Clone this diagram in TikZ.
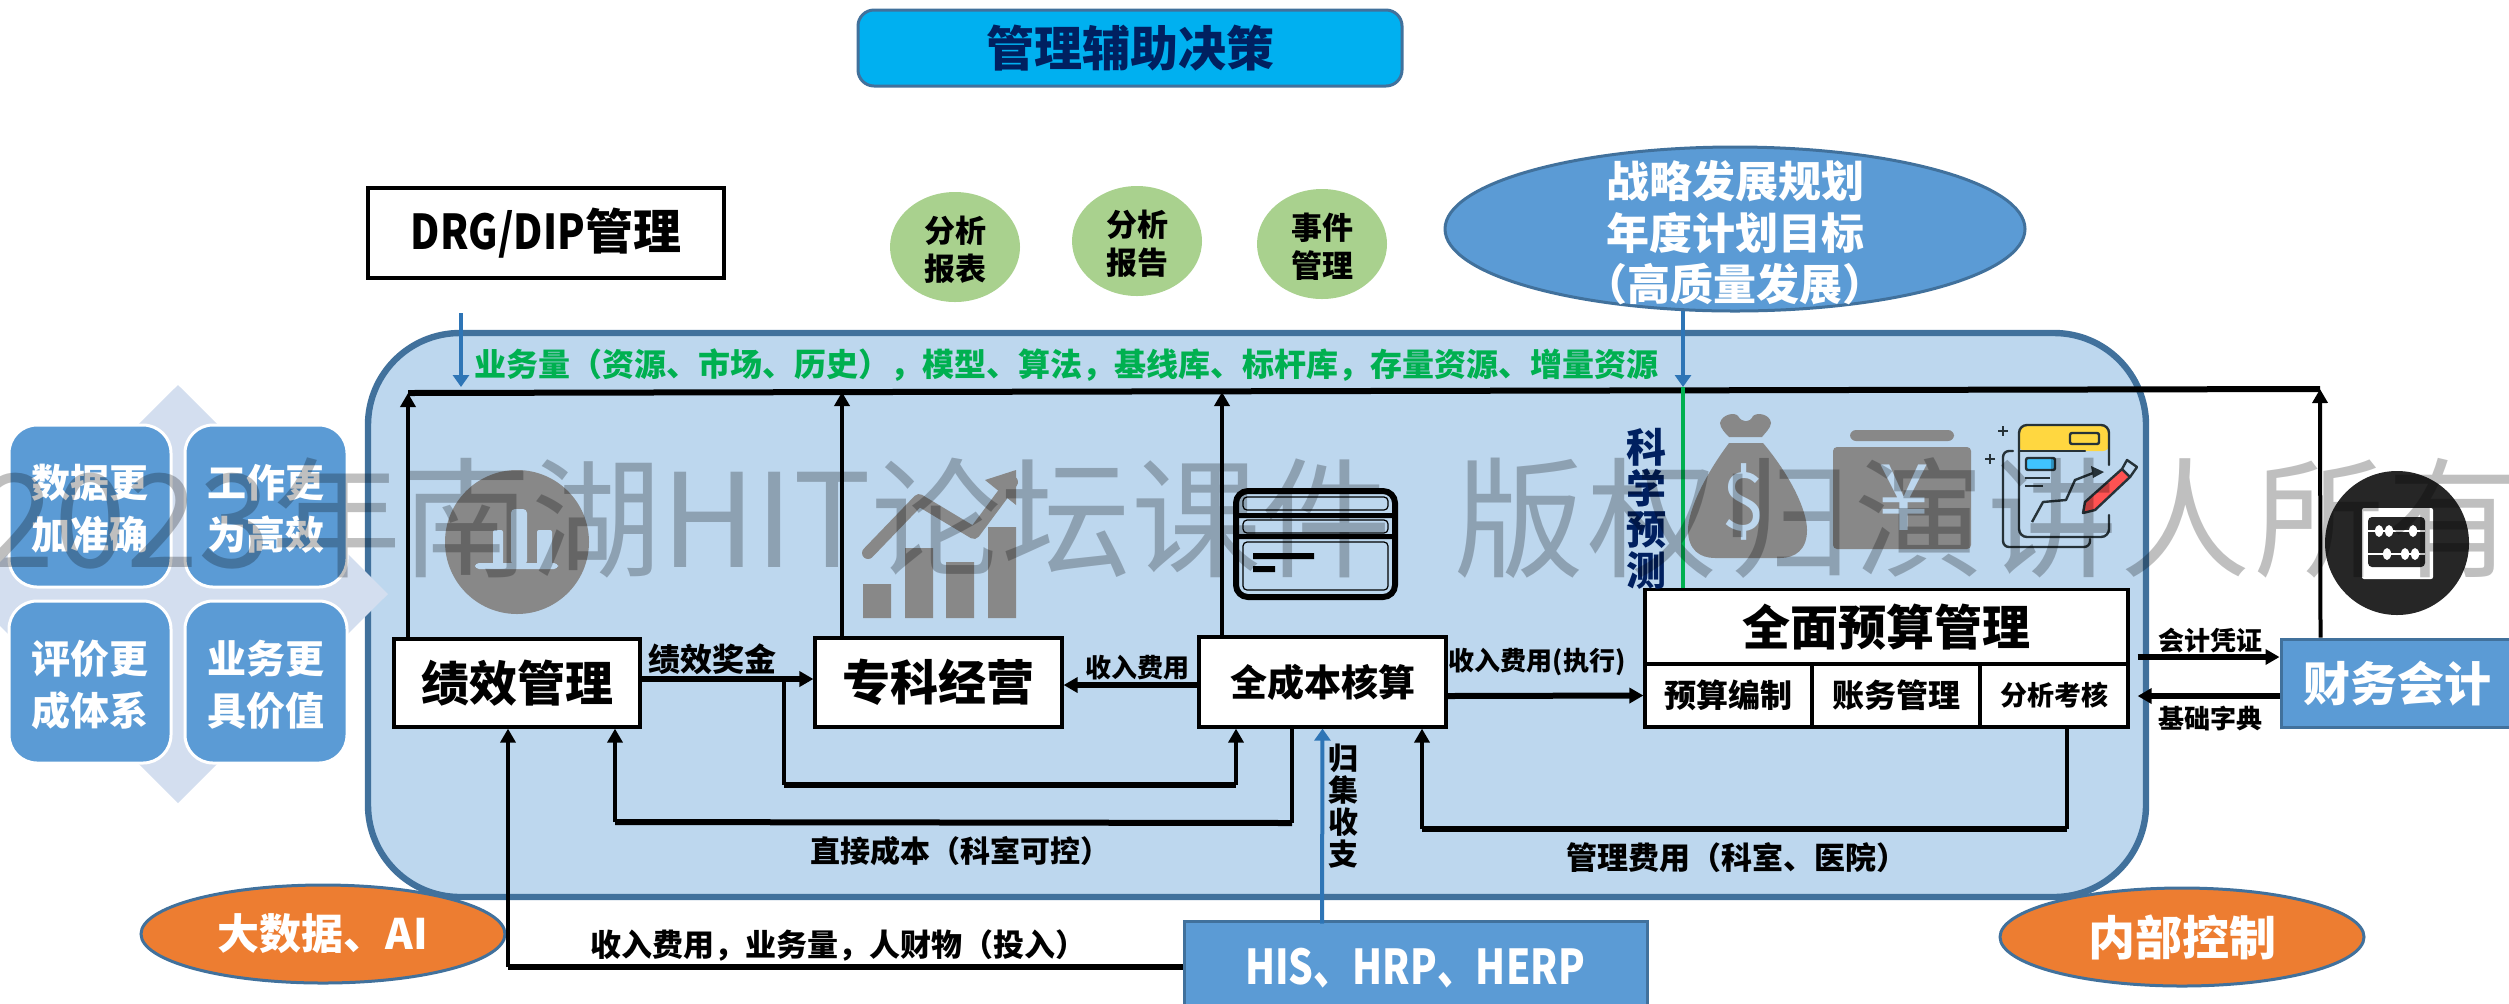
\documentclass[tikz,border=0pt]{standalone}
\usepackage{fontspec}
\setmainfont{Noto Sans CJK SC}
\usetikzlibrary{arrows.meta,shapes.geometric}
\definecolor{panelblue}{HTML}{BDD7EE}
\definecolor{panelline}{HTML}{41719C}
\definecolor{midblue}{HTML}{5B9BD5}
\definecolor{arrowblue}{HTML}{2E75B6}
\definecolor{lightdiamond}{HTML}{D3DEEF}
\definecolor{navytext}{HTML}{002060}
\definecolor{bannerblue}{HTML}{00B0F0}
\definecolor{softgreen}{HTML}{A9D18E}
\definecolor{strongreen}{HTML}{00B050}
\definecolor{orangefill}{HTML}{ED7D31}
\definecolor{icongrey}{HTML}{888888}
\definecolor{icondark}{HTML}{263238}
\definecolor{iconyellow}{HTML}{FFD740}
\definecolor{iconcyan}{HTML}{40C4FF}
\definecolor{iconred}{HTML}{FF5252}
\definecolor{abacusdark}{HTML}{262626}
\tikzset{
  fnt/.style={font=\bfseries\fontsize{#1}{#1}\selectfont},
  wbox/.style={draw=black,fill=white,line width=1.6pt,inner sep=0pt,text=black},
  sbox/.style={draw=white,fill=midblue,line width=1.5pt,rounded corners=14pt,minimum width=81pt,minimum height=81pt,inner sep=0pt},
  stext/.style={inner sep=0pt,text=white,align=center,font=\bfseries\fontsize{19.5}{26}\selectfont},
  oval/.style={ellipse,fill=softgreen,inner sep=0pt,minimum width=65pt,minimum height=55pt},
  ovaltext/.style={inner sep=0pt,align=center,font=\bfseries\fontsize{15.5}{19}\selectfont},
  orangeoval/.style={ellipse,draw=panelline,fill=orangefill,line width=1.5pt,inner sep=0pt,minimum width=182pt,minimum height=49pt,text=white},
  bluebox/.style={draw=panelline,fill=midblue,line width=1.5pt,inner sep=0pt,text=white},
  lbl/.style={inner sep=0pt,text=black,align=center},
  thn/.style={draw=black,line width=2pt},
  thk/.style={draw=black,line width=3pt},
  tip/.style={-{Triangle[length=7pt,width=7.5pt]}},
  tipb/.style={-{Triangle[length=6pt,width=8pt]}},
}
\begin{document}
\begin{tikzpicture}[x=0.5pt,y=-0.5pt]
\useasboundingbox (0,0) rectangle (2509,1003);
\clip (0,0) rectangle (2509,1003);
% panel
\node[draw=panelline,fill=panelblue,line width=3.2pt,rounded corners=46pt,minimum width=889pt,minimum height=282pt,inner sep=0pt] (panel) at (1257,615) {};
% matrix on the left
\fill[lightdiamond] (178,385) -- (388,594) -- (178,803) -- (-32,594) -- cycle;
\node[sbox] (m1) at (90,506) {};
\node[sbox] (m2) at (266,506) {};
\node[sbox] (m3) at (90,682) {};
\node[sbox] (m4) at (266,682) {};
\node[stext] (m1t) at (90,509) {数据更\\加准确};
\node[stext] (m2t) at (266,509) {工作更\\为高效};
\node[stext] (m3t) at (90,685) {评价更\\成体系};
\node[stext] (m4t) at (266,685) {业务更\\具价值};
% top
\node[draw=panelline,fill=bannerblue,line width=1.5pt,rounded corners=8pt,minimum width=272pt,minimum height=38pt,inner sep=0pt,text=navytext,fnt=24] (banner) at (1130,48) {管理辅助决策};
\node[wbox,minimum width=178pt,minimum height=45pt,fnt=24] (drg) at (546,233) {\scalebox{.84}[1]{DRG/DIP}管理};
\node[oval] (o1) at (955,247) {};
\node[oval] (o2) at (1137,241) {};
\node[oval] (o3) at (1322,244) {};
\node[ovaltext] (o1t) at (955,250) {分析\\报表};
\node[ovaltext] (o2t) at (1137,244) {分析\\报告};
\node[ovaltext] (o3t) at (1322,247) {事件\\管理};
\node[ellipse,draw=panelline,fill=midblue,line width=1.5pt,minimum width=290pt,minimum height=82pt,inner sep=0pt] (goal) at (1735,229) {};
\node[inner sep=0pt,text=white,align=center,font=\bfseries\fontsize{21.5}{25.7}\selectfont] (goalt) at (1735,233) {战略发展规划\\年度计划目标\\（高质量发展）};
\node[lbl,text=strongreen,fnt=16] (metrics) at (1066,365) {业务量（资源、市场、历史），模型、算法，基线库、标杆库，存量资源、增量资源};
% icons: circle chart
\fill[icongrey] (517,542) circle (72);
\fill[panelblue,rounded corners=2pt] (511,565) -- (511,509) -- (527,509) -- (527,565) -- cycle;
\fill[panelblue,rounded corners=1pt] (493,565) -- (493,530) -- (503,530) -- (503,565) -- cycle;
\fill[panelblue,rounded corners=1pt] (537,565) -- (537,530) -- (552,530) -- (552,565) -- cycle;
\fill[panelblue,rounded corners=2pt] (475,563) rectangle (558,569);
% icons: bars
\fill[icongrey] (863,584) rectangle (891,618) (905,548) rectangle (933,618) (946,562) rectangle (974,618) (988,527) rectangle (1016,618);
\draw[icongrey,line width=6pt,line cap=round,line join=round] (868,553) -- (919,500) -- (974,533) -- (1012,482);
\fill[icongrey] (1016,470) -- (1016,505) -- (985,480) -- cycle;
% icons: card
\draw[black,line width=3pt,rounded corners=6pt] (1236,491) rectangle (1395,597);
\fill[black] (1236,513) rectangle (1395,518) (1236,534) rectangle (1395,539);
\draw[black,line width=.6pt,rounded corners=2pt] (1243,497) rectangle (1388,510) (1243,520) rectangle (1388,533) (1243,542) rectangle (1388,590);
\fill[black] (1253,553) rectangle (1314,559) (1253,566) rectangle (1275,572);
% icons: money bag
\fill[icongrey] (1720,423) .. controls (1722,414) and (1735,412) .. (1738,416) .. controls (1742,423) and (1750,423) .. (1753,416) .. controls (1757,412) and (1770,414) .. (1771,423) .. controls (1771,428) and (1764,434) .. (1762,437) -- (1729,437) .. controls (1726,434) and (1720,428) .. (1720,423) -- cycle;
\fill[icongrey] (1729,443) -- (1763,443) .. controls (1790,475) and (1807,510) .. (1807,530) .. controls (1807,550) and (1795,558) .. (1780,558) -- (1715,558) .. controls (1700,558) and (1688,550) .. (1688,530) .. controls (1688,510) and (1705,475) .. (1729,443) -- cycle;
\node[inner sep=0pt,text=panelblue,font=\fontsize{40}{40}\selectfont] (dollar) at (1744,502) {\$};
% icons: yen wallet
\fill[icongrey,rounded corners=3pt] (1850,430) rectangle (1954,441);
\fill[icongrey,rounded corners=2pt] (1833,447) rectangle (1971,549);
\node[inner sep=0pt,text=panelblue,font=\fontsize{46}{46}\selectfont] (yen) at (1904,498) {¥};
% icons: document
\fill[iconyellow,rounded corners=3pt] (2019,451) -- (2019,425) -- (2109,425) -- (2109,451) -- cycle;
\draw[icondark,line width=1.2pt,rounded corners=4pt,line cap=round] (2109,465) -- (2109,425) -- (2019,425) -- (2019,537) -- (2109,537) -- (2109,515);
\draw[icondark,line width=1.2pt,line cap=round] (2019,451) -- (2085,451);
\draw[icondark,line width=1.2pt,rounded corners=3pt,line cap=round] (2013,451) -- (2003,451) -- (2003,547) -- (2090,547) -- (2090,539);
\draw[icondark,line width=1.2pt,fill=iconyellow,rounded corners=1pt] (2070,433) rectangle (2099,444);
\draw[icondark,line width=1.2pt,fill=iconcyan,rounded corners=1pt] (2026,458) rectangle (2055,470);
\draw[icondark,line width=1.2pt] (2025,478) -- (2050,478) (2025,486) -- (2043,486) (1998,431) -- (2008,431) (2003,426) -- (2003,436) (1985,459) -- (1995,459) (1990,454) -- (1990,464);
\draw[icondark,line width=1.2pt,line join=round] (2032,522) -- (2043,502) -- (2066,500) -- (2075,480) -- (2093,473);
\fill[icondark] (2104,472) -- (2091,466) -- (2093,478) -- cycle;
\draw[icondark,line width=1.2pt,line join=round,fill=iconred] (2083,513) -- (2085,502) -- (2122,469) -- (2130,477) -- (2095,510) -- cycle;
\draw[icondark,line width=1.2pt,line join=round,fill=panelblue] (2122,469) -- (2127,460) -- (2137,467) -- (2130,477) -- cycle;
% icons: abacus
\fill[abacusdark] (2397,543) circle (72);
\fill[white,rounded corners=1pt] (2362,508) rectangle (2433,579);
\fill[abacusdark,rounded corners=2pt] (2368,517) rectangle (2425,567);
\draw[white,line width=1pt] (2368,531) -- (2425,531) (2368,554) -- (2425,554);
\foreach \bx/\by in {2379/531,2389/531,2413/531,2387/554,2405/554,2415/554}{\fill[white] (\bx,\by) ellipse (4 and 6);}
% main boxes
\node[wbox,minimum width=123pt,minimum height=44pt,fnt=24] (jx) at (517,683) {绩效管理};
\node[wbox,minimum width=123.5pt,minimum height=44.5pt,fnt=24] (zk) at (938.5,682.5) {专科经营};
\node[wbox,minimum width=123.5pt,minimum height=45pt,fnt=18.5] (qc) at (1322.5,682) {全成本核算};
\node[wbox,minimum width=241.5pt,minimum height=37.5pt,fnt=24] (qm) at (1886.5,627) {全面预算管理};
\node[wbox,minimum width=83.5pt,minimum height=31.5pt,fnt=16] (ys) at (1728.5,695.5) {预算编制};
\node[wbox,minimum width=84pt,minimum height=31.5pt,fnt=16] (zw) at (1896,695.5) {账务管理};
\node[wbox,minimum width=74pt,minimum height=31.5pt,fnt=13.5] (fx) at (2054,695.5) {分析考核};
\node[bluebox,minimum width=116pt,minimum height=44pt] (cw) at (2397,683) {};
\node[lbl,text=white,fnt=23.5] (cwt) at (2397,684) {财务会计};
\node[bluebox,minimum width=231.5pt,minimum height=45pt] (his) at (1415.5,966) {};
\node[lbl,text=white,fnt=24] (hist) at (1415,968) {\scalebox{.81}[1]{HIS、HRP、HERP}};
\node[orangeoval,fnt=21] (ai) at (323,934) {大数据、AI};
\node[orangeoval,fnt=23.5] (nk) at (2182,937) {内部控制};
% coordinates of free ends and bends
\coordinate (busL) at (408,393);
\coordinate (busR) at (2320,389);
\coordinate (t2) at (842,392);
\coordinate (t3) at (1222,392);
\coordinate (drgA) at (461,313);
\coordinate (drgB) at (461,387);
\coordinate (gB) at (1683,387);
\coordinate (loopS) at (784,681);
\coordinate (loopA) at (784,785);
\coordinate (loopB) at (1236,785);
\coordinate (dirA) at (1292,823);
\coordinate (dirB) at (615,822);
\coordinate (glA) at (2067,829);
\coordinate (glB) at (1422,829);
\coordinate (hisB) at (508,967);
% connectors
\draw[thk] (busL) -- (busR);
\draw[thn,tip] ([xshift=-54.5pt]jx.north) -- (busL);
\draw[thn,tip] ([xshift=-48.25pt]zk.north) -- (t2);
\draw[thn,tip] ([xshift=-50.25pt]qc.north) -- (t3);
\draw[thn,tip] ([xshift=-38.25pt]cw.north) -- (busR);
\draw[line width=2pt,arrowblue,tipb] (drgA) -- (drgB);
\draw[strongreen,line width=2pt] (gB) -- ([xshift=-101.75pt]qm.north);
\draw[line width=2pt,arrowblue,tipb] ([xshift=-26pt,yshift=1pt]goal.south) -- (gB);
\draw[thk,tip] ([yshift=2pt]jx.east) -- ([yshift=1.75pt]zk.west);
\draw[thk,tip] ([yshift=-1.5pt]qc.west) -- ([yshift=-1.25pt]zk.east);
\draw[thk,tip] ([yshift=-7pt]qc.east) -- ([yshift=0pt]ys.west);
\draw[thk,tip] ([xshift=4pt,yshift=-15pt]qm.east) -- ([yshift=13pt]cw.west);
\draw[thk,tip] ([yshift=-6.5pt]cw.west) -- ([xshift=4pt,yshift=-.25pt]fx.east);
\draw[thn] (loopS) -- (loopA);
\draw[thk,line cap=square] (loopA) -- (loopB);
\draw[thn,tip] (loopB) -- ([xshift=-43.25pt]qc.south);
\draw[thn] ([xshift=-15.25pt]qc.south) -- (dirA);
\draw[thk,line cap=square] (dirA) -- (dirB);
\draw[thn,tip] (dirB) -- ([xshift=49pt]jx.south);
\draw[thn] ([xshift=6.5pt]fx.south) -- (glA);
\draw[thk,line cap=square] (glA) -- (glB);
\draw[thn,tip] (glB) -- ([xshift=49.75pt]qc.south);
\draw[thk,line cap=square] ([yshift=-.5pt]his.west) -- (hisB);
\draw[thn,tip] (hisB) -- ([xshift=-4.5pt]jx.south);
\draw[line width=2pt,arrowblue,tipb] ([xshift=-46.75pt,yshift=-2pt]his.north) -- (qc.south);
% labels
\node[lbl,text=navytext,font=\bfseries\fontsize{20}{20.5}\selectfont] (kx) at (1646,509) {科\\学\\预\\测};
\node[lbl,font=\bfseries\fontsize{15}{16}\selectfont] (gj) at (1343,806) {归\\集\\收\\支};
\node[lbl,fnt=16] (l1) at (712,659) {绩效奖金};
\node[lbl,fnt=13] (l2) at (1137,668) {收入费用};
\node[lbl,fnt=13] (l3) at (1537,662) {收入费用(执行)};
\node[lbl,fnt=13] (l4) at (2210,641) {会计凭证};
\node[lbl,fnt=13] (l5) at (2210,718) {基础字典};
\node[lbl,fnt=15] (l6) at (960,851) {直接成本（科室可控）};
\node[lbl,fnt=15.5] (l7) at (1737,858) {管理费用（科室、医院）};
\node[lbl,fnt=15.5] (l8) at (838,946) {收入费用，业务量，人财物（投入）};
% watermark
\node[anchor=base west,inner sep=0pt,text=black,text opacity=.25,font=\fontsize{65}{65}\selectfont] (wm) at (-18,567) {2023年南湖HIT论坛课件 \hspace{17pt}{\addfontfeature{LetterSpace=2.5}版权归演讲人所有}};
\end{tikzpicture}
\end{document}
